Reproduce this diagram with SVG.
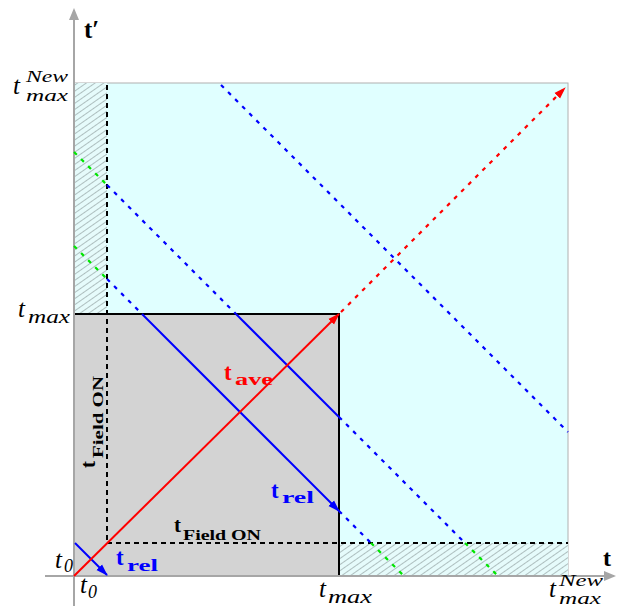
<svg xmlns="http://www.w3.org/2000/svg" width="620" height="612" viewBox="0 0 620 612">
<style>
.ax{stroke:#a6a6a6;stroke-width:2;fill:none}
.blk{stroke:#000;stroke-width:2;fill:none;stroke-dasharray:5,4}
.red{stroke:#f00;stroke-width:2;fill:none}
.redd{stroke:#f00;stroke-width:2.2;fill:none;stroke-dasharray:4,6}
.blue{stroke:#00f;stroke-width:2;fill:none}
.blued{stroke:#00f;stroke-width:2.2;fill:none;stroke-dasharray:4,6}
.grn{stroke:#00e600;stroke-width:2.2;fill:none;stroke-dasharray:4,6}
.mi{font-family:"Liberation Serif",serif;font-style:italic;fill:#000}
.bd{font-family:"Liberation Serif",serif;font-weight:bold}
</style>
<defs>
<pattern id="hatch" width="5" height="5" patternUnits="userSpaceOnUse" patternTransform="rotate(-35)">
<rect width="5" height="5" fill="#e6fbfb"/>
<line x1="0" y1="2.5" x2="5" y2="2.5" stroke="#9fb0b0" stroke-width="0.8"/>
</pattern>
<marker id="aGray" markerWidth="12" markerHeight="10" refX="10" refY="5" orient="auto" markerUnits="userSpaceOnUse"><path d="M0,0 L12,5 L0,10 Z" fill="#a6a6a6"/></marker>
<marker id="aRed" markerWidth="12" markerHeight="10" refX="11" refY="5" orient="auto" markerUnits="userSpaceOnUse"><path d="M0,1 L12,5 L0,9 Z" fill="#f00"/></marker>
<marker id="aBlue" markerWidth="12" markerHeight="10" refX="11" refY="5" orient="auto" markerUnits="userSpaceOnUse"><path d="M0,1 L12,5 L0,9 Z" fill="#00f"/></marker>
</defs>

<g id="regions">
<rect id="cyan" x="74" y="83" width="494" height="493" fill="#e0ffff" stroke="#b0b0b0" stroke-width="1"/>
<rect id="hatchV" x="74" y="83" width="33" height="231" fill="url(#hatch)"/>
<rect id="hatchH" x="339" y="543" width="229" height="33" fill="url(#hatch)"/>
<rect id="box" x="74" y="314" width="265" height="262" fill="#d3d3d3" stroke="#000" stroke-width="2"/>
</g>

<g id="axes">
<line class="ax" x1="74" y1="606" x2="74" y2="10" marker-end="url(#aGray)"/>
<line class="ax" x1="45" y1="576" x2="614" y2="576" marker-end="url(#aGray)"/>
</g>

<g id="connectors">
<line class="blk" x1="107" y1="85" x2="107" y2="543"/>
<line class="blk" x1="107" y1="543" x2="568" y2="543"/>
<line class="grn" x1="74" y1="246" x2="107" y2="279"/>
<line class="blued" x1="107" y1="279" x2="142" y2="314"/>
<line class="blue" x1="142" y1="314" x2="339" y2="511" marker-end="url(#aBlue)"/>
<line class="blued" x1="339" y1="511" x2="371" y2="543"/>
<line class="grn" x1="371" y1="543" x2="404" y2="576"/>
<line class="grn" x1="74" y1="152" x2="107" y2="185"/>
<line class="blued" x1="107" y1="185" x2="236" y2="314"/>
<line class="blue" x1="236" y1="314" x2="339" y2="417"/>
<line class="blued" x1="339" y1="417" x2="465" y2="543"/>
<line class="grn" x1="465" y1="543" x2="498" y2="576"/>
<line class="blued" x1="221" y1="85" x2="568" y2="432"/>
<line class="blue" x1="75" y1="543" x2="107" y2="575" marker-end="url(#aBlue)"/>
<line class="red" x1="74" y1="576" x2="339" y2="314" marker-end="url(#aRed)"/>
<line class="redd" x1="341" y1="312" x2="565" y2="88" marker-end="url(#aRed)"/>
</g>

<g id="labels">
<text class="bd" x="84" y="38" font-size="25">t′</text>
<text class="bd" x="603" y="566" font-size="24">t</text>
<text class="mi" x="13" y="94" font-size="25">t</text>
<text class="mi" x="26" y="82" font-size="16" textLength="42" lengthAdjust="spacingAndGlyphs">New</text>
<text class="mi" x="26" y="101" font-size="17" textLength="42" lengthAdjust="spacingAndGlyphs">max</text>
<text class="mi" x="18" y="317" font-size="25">t</text>
<text class="mi" x="28" y="323" font-size="18" textLength="42" lengthAdjust="spacingAndGlyphs">max</text>
<text class="mi" x="55" y="568" font-size="25">t</text>
<text class="mi" x="64" y="572" font-size="18">0</text>
<text class="mi" x="80" y="593" font-size="25">t</text>
<text class="mi" x="88" y="598" font-size="18">0</text>
<text class="mi" x="319" y="597" font-size="25">t</text>
<text class="mi" x="328" y="603" font-size="18" textLength="44" lengthAdjust="spacingAndGlyphs">max</text>
<text class="mi" x="549" y="597" font-size="25">t</text>
<text class="mi" x="559" y="586" font-size="16" textLength="44" lengthAdjust="spacingAndGlyphs">New</text>
<text class="mi" x="559" y="604" font-size="17" textLength="42" lengthAdjust="spacingAndGlyphs">max</text>
<g fill="#f00"><text class="bd" x="224" y="380" font-size="23">t</text><text class="bd" x="235" y="385" font-size="17" textLength="38" lengthAdjust="spacingAndGlyphs">ave</text></g>
<g fill="#00f"><text class="bd" x="271" y="498" font-size="23">t</text><text class="bd" x="282" y="503" font-size="17" textLength="32" lengthAdjust="spacingAndGlyphs">rel</text></g>
<g fill="#00f"><text class="bd" x="116" y="565" font-size="23">t</text><text class="bd" x="127" y="571" font-size="17" textLength="31" lengthAdjust="spacingAndGlyphs">rel</text></g>
<g fill="#000"><text class="bd" x="174" y="532" font-size="21">t</text><text class="bd" x="183" y="540" font-size="15" textLength="78" lengthAdjust="spacingAndGlyphs">Field ON</text></g>
<g fill="#000" transform="translate(95,469) rotate(-90)"><text class="bd" x="1" y="0" font-size="21">t</text><text class="bd" x="11" y="8" font-size="15" textLength="82" lengthAdjust="spacingAndGlyphs">Field ON</text></g>
</g>
</svg>
